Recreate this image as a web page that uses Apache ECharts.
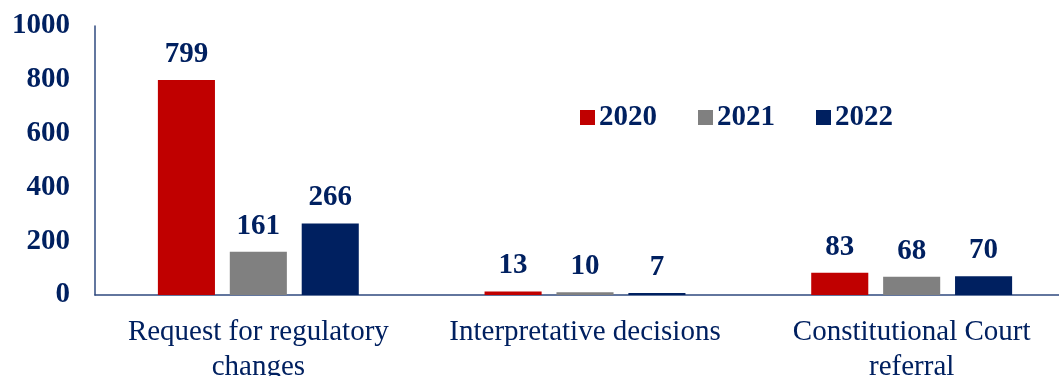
<!DOCTYPE html>
<html>
<head>
<meta charset="utf-8">
<script src="https://cdn.jsdelivr.net/npm/echarts@6/dist/echarts.min.js"></script>
<style>
  html, body { margin: 0; padding: 0; background: #fff; }
  #main { width: 1059px; height: 376px; }
</style>
</head>
<body>
<div id="main"></div>
<script>
// chart data
const categories = ['Request for regulatory\nchanges', 'Interpretative decisions', 'Constitutional Court\nreferral']
const years = ['2020', '2021', '2022']
const values2020 = [799, 13, 83]
const values2021 = [161, 10, 68]
const values2022 = [266, 7, 70]
const yTicks = [0, 200, 400, 600, 800, 1000]

const colors = ['#C00000', '#808080', '#002060']
const textColor = '#002060'
const font = '"Liberation Serif", "Times New Roman", serif'

const myChart = echarts.init(document.getElementById('main'))

const makeSeries = (name, data, color) => ({
  name: name,
  type: 'bar',
  data: data,
  barGap: '26%',
  barCategoryGap: '38.5%',
  itemStyle: { color: color },
  label: {
    show: true,
    position: 'top',
    distance: 11,
    color: textColor,
    fontFamily: font,
    fontWeight: 'bold',
    fontSize: 29
  }
})

const option = {
  animation: false,
  backgroundColor: '#fff',
  textStyle: { fontFamily: font },
  legend: {
    top: 98,
    left: 575,
    itemWidth: 15,
    itemHeight: 15,
    itemGap: 41,
    icon: 'rect',
    data: years,
    textStyle: {
      color: textColor,
      fontFamily: font,
      fontWeight: 'bold',
      fontSize: 29,
      padding: [0, 0, 0, -1]
    }
  },
  // plot area runs a little past the right edge, like the original
  grid: {
    left: 95,
    right: -16,
    top: 26,
    bottom: 81,
    containLabel: false,
    outerBoundsMode: 'none'
  },
  xAxis: {
    type: 'category',
    data: categories,
    axisTick: { show: false },
    axisLine: { lineStyle: { color: '#2F4A7F', width: 1.5 } },
    axisLabel: {
      margin: 20,
      color: textColor,
      fontFamily: font,
      fontSize: 29,
      lineHeight: 35,
      interval: 0
    }
  },
  yAxis: {
    type: 'value',
    min: yTicks[0],
    max: yTicks[yTicks.length - 1],
    interval: 200,
    splitLine: { show: false },
    axisTick: { show: false },
    axisLine: { show: true, lineStyle: { color: '#2F4A7F', width: 1.5 } },
    axisLabel: {
      margin: 25,
      color: textColor,
      fontFamily: font,
      fontWeight: 'bold',
      fontSize: 29,
      formatter: (v) => String(v)
    }
  },
  series: [
    makeSeries(years[0], values2020, colors[0]),
    makeSeries(years[1], values2021, colors[1]),
    makeSeries(years[2], values2022, colors[2])
  ]
}

option && myChart.setOption(option)
</script>
</body>
</html>
